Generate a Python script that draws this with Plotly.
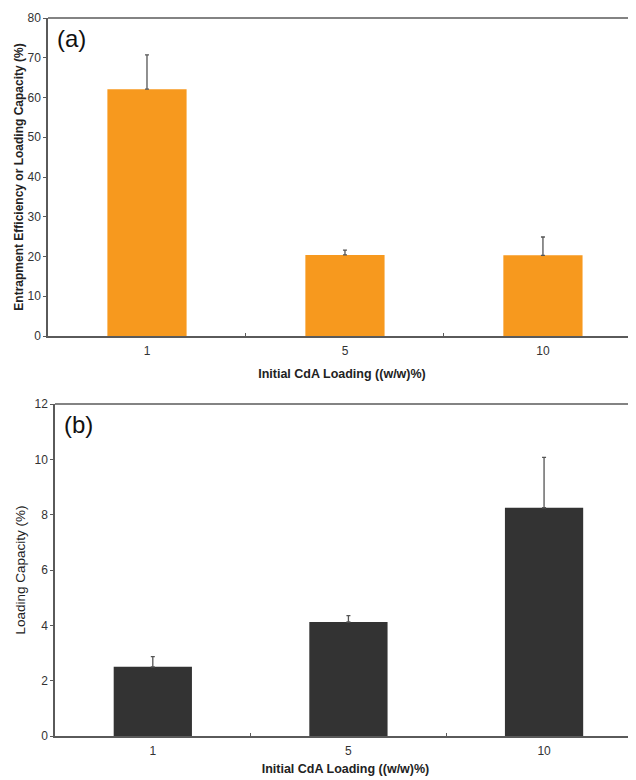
import plotly.graph_objects as go

categories = ["1", "5", "10"]
ee_values = [62.1, 20.4, 20.3]
ee_errors = [8.6, 1.2, 4.6]
lc_values = [2.5, 4.12, 8.25]
lc_errors = [0.37, 0.23, 1.82]

# the page body has an 8px margin, so the figure is drawn 8px in and sized to fit
OFF = 8
W, H = 636 - OFF, 780 - OFF
font = "Liberation Sans, Arial, sans-serif"
axcol = "#5a5a5a"

def px_x(x):
    return (x - OFF) / W

def px_y(y):
    return (H - (y - OFF)) / H

fig = go.Figure()
fig.add_trace(go.Bar(x=categories, y=ee_values, width=0.4, marker_color="#F7991E",
                     marker_line_width=0,
                     error_y=dict(type="data", array=ee_errors, arrayminus=[0]*3, symmetric=False,
                                  color="#555555", thickness=1.3, width=2),
                     xaxis="x", yaxis="y", showlegend=False))
fig.add_trace(go.Bar(x=categories, y=lc_values, width=0.4, marker_color="#333333",
                     marker_line_width=0,
                     error_y=dict(type="data", array=lc_errors, arrayminus=[0]*3, symmetric=False,
                                  color="#555555", thickness=1.3, width=2),
                     xaxis="x2", yaxis="y2", showlegend=False))

def xax(domain, anchor, standoff):
    return dict(domain=domain, anchor=anchor, type="category", range=[-0.5, 2.47],
                automargin=False,
                showline=True, linecolor=axcol, linewidth=1.5, tickson="boundaries",
                ticks="inside", ticklen=3, tickcolor=axcol, showgrid=False, zeroline=False,
                ticklabelstandoff=3,
                tickfont=dict(size=12, color="#333", family=font),
                title=dict(text="<b>Initial CdA Loading ((w/w)%)</b>",
                           font=dict(size=12.5, color="#222", family=font), standoff=standoff))

def yax(domain, anchor, rng, dt, title, size, standoff):
    return dict(domain=domain, anchor=anchor, range=rng, dtick=dt, showline=True,
                automargin=False,
                linecolor=axcol, linewidth=1.5, ticks="outside", ticklen=3, tickcolor=axcol,
                showgrid=False, zeroline=False,
                tickfont=dict(size=12, color="#333", family=font),
                title=dict(text=title, font=dict(size=size, color="#222", family=font),
                           standoff=standoff))

fig.update_layout(
    width=W, height=H, margin=dict(l=0, r=0, t=0, b=0),
    paper_bgcolor="white", plot_bgcolor="white",
    xaxis=xax([px_x(48), 1], "y", 12),
    yaxis=yax([px_y(336), px_y(18)], "x", [0, 80], 10,
              "<b>Entrapment Efficiency or Loading Capacity (%)</b>", 12, 1),
    xaxis2=xax([px_x(55), 1], "y2", 7),
    yaxis2=yax([px_y(736), px_y(404)], "x2", [0, 12], 2, "Loading Capacity (%)", 13.5, 6),
    shapes=[
        dict(type="line", xref="x domain", yref="y domain", x0=0, x1=1, y0=1, y1=1,
             line=dict(color=axcol, width=1.5)),
        dict(type="line", xref="x2 domain", yref="y2 domain", x0=0, x1=1, y0=1, y1=1,
             line=dict(color=axcol, width=1.5)),
    ],
    annotations=[
        dict(text="(a)", xref="x domain", yref="y domain", x=0.012, y=0.985,
             xanchor="left", yanchor="top", showarrow=False,
             font=dict(size=24, color="#111", family=font)),
        dict(text="(b)", xref="x2 domain", yref="y2 domain", x=0.012, y=0.985,
             xanchor="left", yanchor="top", showarrow=False,
             font=dict(size=24, color="#111", family=font)),
    ],
)

fig.write_html("out.html")
